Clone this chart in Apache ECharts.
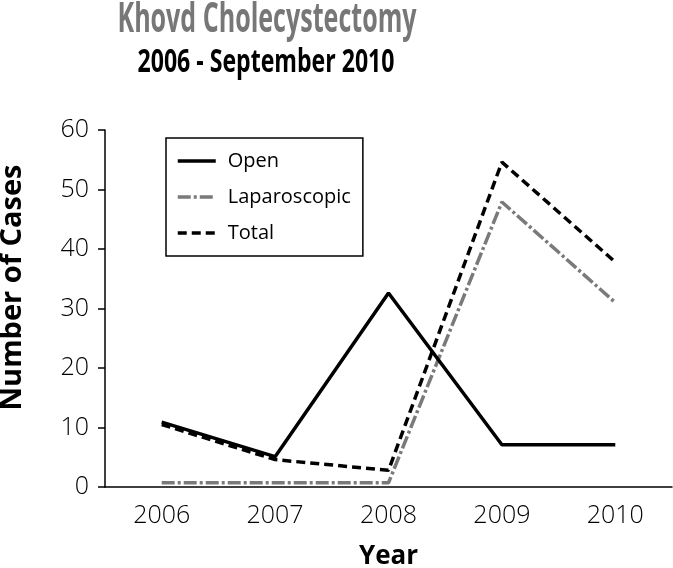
<!DOCTYPE html>
<html>
<head>
<meta charset="utf-8">
<script src="https://cdn.jsdelivr.net/npm/echarts@6/dist/echarts.min.js"></script>
<style>html,body{margin:0;padding:0;background:#fff;}#c{width:673px;height:568px;}</style>
</head>
<body>
<div id="c"></div>
<script>
const years = ['2006', '2007', '2008', '2009', '2010'];
const openCases = [10.9, 5.1, 32.6, 7.1, 7.1];
const laparoscopicCases = [0.7, 0.7, 0.7, 47.9, 31];
const totalCases = [10.5, 4.6, 2.8, 54.6, 37.8];
const yTicks = { min: 0, max: 60, interval: 10 };
const titleText = 'Khovd Cholecystectomy';
const subtitleText = '2006 - September 2010';

const labelFont = '"Open Sans", sans-serif';
const titleFont = 'bold 42px "Open Sans", sans-serif';
const subFont = 'bold 32px "Open Sans", sans-serif';

function fitScale(text, font, target) {
  const ctx = document.createElement('canvas').getContext('2d');
  ctx.font = font;
  const w = ctx.measureText(text).width;
  return w > 0 ? target / w : 1;
}

const chart = echarts.init(document.getElementById('c'), null, { renderer: 'canvas' });
chart.setOption({
  animation: false,
  backgroundColor: '#fff',
  graphic: [
    { type: 'text', x: 267, y: 20, scaleX: fitScale(titleText, titleFont, 299),
      style: { text: titleText, font: titleFont, fill: '#777777', align: 'center', verticalAlign: 'middle' } },
    { type: 'text', x: 266, y: 63, scaleX: fitScale(subtitleText, subFont, 257),
      style: { text: subtitleText, font: subFont, fill: '#000', align: 'center', verticalAlign: 'middle' } }
  ],
  legend: {
    orient: 'vertical', left: 166, top: 138,
    borderColor: '#000', borderWidth: 1.5, padding: [13, 12, 13, 10],
    itemWidth: 38, itemHeight: 14, itemGap: 16,
    itemStyle: { opacity: 0 },
    lineStyle: { width: 3.5 },
    textStyle: { fontFamily: labelFont, fontSize: 20, color: '#000', padding: [0, 0, 0, 7] },
    data: ['Open', 'Laparoscopic', 'Total']
  },
  grid: { left: 105, right: 1, top: 130, bottom: 81, outerBoundsMode: 'none' },
  xAxis: {
    type: 'category', data: years, boundaryGap: true,
    name: 'Year', nameLocation: 'middle', nameGap: 57,
    nameTextStyle: { fontFamily: labelFont, fontWeight: 'bold', fontSize: 26, color: '#000' },
    axisLine: { lineStyle: { color: '#000', width: 1.5 } },
    axisTick: { length: 7, lineStyle: { color: '#000', width: 1.5 } },
    axisLabel: { fontFamily: labelFont, fontSize: 25, fontWeight: 300, color: '#000', margin: 16 }
  },
  yAxis: {
    type: 'value', min: yTicks.min, max: yTicks.max, interval: yTicks.interval,
    name: 'Number of Cases', nameLocation: 'middle', nameGap: 78,
    nameTextStyle: { fontFamily: labelFont, fontWeight: 'bold', fontSize: 29, color: '#000', padding: [0, 0, 0, 42] },
    axisLine: { show: true, lineStyle: { color: '#000', width: 1.5 } },
    axisTick: { show: true, length: 7, lineStyle: { color: '#000', width: 1.5 } },
    axisLabel: { fontFamily: labelFont, fontSize: 25, fontWeight: 300, color: '#000', margin: 16 },
    splitLine: { show: false }
  },
  series: [
    { name: 'Open', type: 'line', data: openCases, symbol: 'none', z: 3,
      lineStyle: { color: '#000', width: 3.5, type: 'solid' }, itemStyle: { color: '#000' } },
    { name: 'Laparoscopic', type: 'line', data: laparoscopicCases, symbol: 'none', z: 2,
      lineStyle: { color: '#7a7a7a', width: 3.5, type: [13, 3, 3, 3] }, itemStyle: { color: '#7a7a7a' } },
    { name: 'Total', type: 'line', data: totalCases, symbol: 'none', z: 4,
      lineStyle: { color: '#000', width: 3.5, type: [9, 5] }, itemStyle: { color: '#000' } }
  ]
});
</script>
</body>
</html>
